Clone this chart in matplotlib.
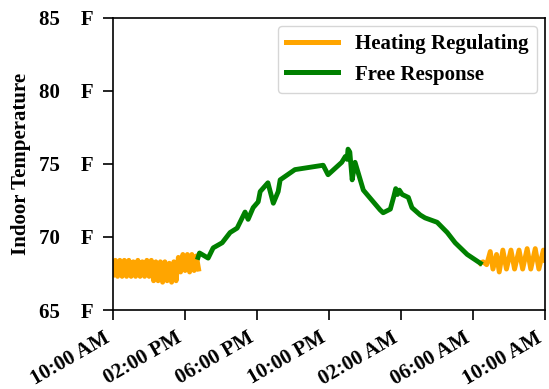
import matplotlib
matplotlib.use("Agg")
import matplotlib.pyplot as plt
import matplotlib.dates as mdates
import pandas as pd

# hours after 10:00 AM and indoor temperature (F)
heat_am_hours = [0.0, 0.125, 0.25, 0.375, 0.5, 0.625, 0.75, 0.875, 1.0, 1.125,
                 1.25, 1.375, 1.5, 1.625, 1.75, 1.875, 2.0, 2.125, 2.25, 2.375,
                 2.5, 2.625, 2.75, 2.875, 3.0, 3.125, 3.25, 3.375, 3.5, 3.625,
                 3.75, 3.875, 4.0, 4.125, 4.25, 4.375, 4.5, 4.625, 4.75]
heat_am_temp = [67.4, 68.4, 67.3, 68.4, 67.3, 68.4, 67.3, 68.4, 67.3, 68.3,
                67.3, 68.4, 67.3, 68.3, 67.3, 68.4, 67.3, 68.4, 67.0, 68.3,
                67.0, 68.3, 66.9, 68.3, 67.0, 68.2, 66.9, 68.3, 67.0, 68.6,
                67.6, 68.8, 67.7, 68.8, 67.6, 68.8, 67.7, 68.7, 67.8]

free_hours = [4.72, 4.8, 5.28, 5.56, 6.06, 6.5, 6.89, 7.33, 7.5, 7.78,
              8.06, 8.17, 8.6, 8.9, 9.17, 9.28, 10.1, 11.67, 11.94, 12.7,
              12.9, 13.0, 13.05, 13.15, 13.28, 13.44, 13.9, 14.83, 15.0, 15.4,
              15.6, 15.7, 15.8, 15.9, 16.06, 16.4, 16.6, 17.06, 17.33, 18.0,
              18.56, 19.0, 19.67, 20.4]
free_temp = [68.6, 68.9, 68.55, 69.25, 69.6, 70.3, 70.6, 71.7, 71.2, 72.0,
             72.4, 73.1, 73.7, 72.3, 73.1, 73.9, 74.6, 74.9, 74.25, 75.1,
             75.5, 75.3, 76.0, 75.8, 73.9, 75.1, 73.2, 71.85, 71.65, 71.9,
             72.8, 73.3, 72.9, 73.2, 72.9, 72.7, 72.0, 71.5, 71.3, 71.0,
             70.3, 69.6, 68.8, 68.2]

heat_pm_hours = [20.4, 20.55, 20.75, 20.95, 21.1, 21.3, 21.45, 21.65, 21.85, 22.1,
                 22.3, 22.55, 22.75, 23.0, 23.2, 23.45, 23.65, 23.9, 24.0]
heat_pm_temp = [68.2, 68.3, 68.1, 69.0, 67.8, 68.8, 67.6, 69.1, 67.8, 69.1,
                67.8, 69.1, 67.8, 69.2, 67.8, 69.2, 67.8, 69.1, 68.4]

y_ticks = [65, 70, 75, 80, 85]

start = pd.Timestamp("2021-01-01 10:00")


def to_time(hours):
    return start + pd.to_timedelta(hours, unit="h")


plt.rcParams["font.family"] = ["Liberation Serif", "DejaVu Serif"]
plt.rcParams["font.weight"] = "bold"

fig = plt.figure(figsize=(5.49, 3.89), dpi=100)
ax = fig.add_axes([0.206, 0.203, 0.787, 0.752])

ax.plot(to_time(heat_am_hours), heat_am_temp, color="orange", linewidth=3.5,
        label="Heating Regulating")
ax.plot(to_time(heat_pm_hours), heat_pm_temp, color="orange", linewidth=3.5)
ax.plot(to_time(free_hours), free_temp, color="green", linewidth=3.5,
        label="Free Response")

ax.set_xlim(start, start + pd.Timedelta(hours=24))
ax.set_ylim(65, 85)
ax.set_yticks(y_ticks)
ax.set_yticklabels([f"{t}    F" for t in y_ticks], fontsize=15, fontweight="bold")

ax.xaxis.set_major_locator(mdates.HourLocator(byhour=range(2, 24, 4)))
ax.xaxis.set_major_formatter(mdates.DateFormatter("%I:%M %p"))
for lbl in ax.get_xticklabels():
    lbl.set_rotation(30)
    lbl.set_ha("right")
    lbl.set_fontsize(15)
    lbl.set_fontweight("bold")

ax.tick_params(axis="both", length=7, width=1.2)
ax.tick_params(axis="y", pad=7)
ax.tick_params(axis="x", pad=6)
for sp in ax.spines.values():
    sp.set_linewidth(1.2)

ax.set_ylabel("Indoor Temperature", fontsize=15, fontweight="bold")
ax.yaxis.set_label_coords(-0.19, 0.5)

leg = ax.legend(loc="upper right", prop={"size": 15, "weight": "bold"},
                handlelength=2.5, borderaxespad=0.4)
for line in leg.get_lines():
    line.set_linewidth(3.6)

fig.savefig("out.png", dpi=100)
